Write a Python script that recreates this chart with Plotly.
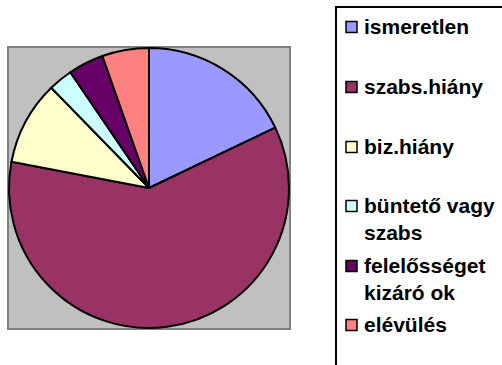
import plotly.graph_objects as go

W, H = 502, 365

# Share of cases by reason
labels = ["ismeretlen", "szabs.hiány", "biz.hiány", "büntető vagy szabs",
          "felelősséget kizáró ok", "elévülés"]
legend_text = ["ismeretlen", "szabs.hiány", "biz.hiány", "büntető vagy<br>szabs",
               "felelősséget<br>kizáró ok", "elévülés"]
values = [17.9, 60.1, 9.7, 2.8, 4.1, 5.4]
colors = ["#9999FF", "#993366", "#FFFFCC", "#CCFFFF", "#660066", "#FF8080"]


def px(x):
    return x / W


def py(y):
    return 1 - y / H


# plot area square (pixels)
pa_x0, pa_x1, pa_y0, pa_y1 = 8, 290, 47, 329

fig = go.Figure(go.Pie(
    labels=labels, values=values, sort=False, direction="clockwise", rotation=0,
    marker=dict(colors=colors, line=dict(color="black", width=2)),
    textinfo="none", hoverinfo="label+percent", showlegend=False,
    domain=dict(x=[px(pa_x0 + 1), px(pa_x1 - 1)], y=[py(pa_y1 - 1), py(pa_y0 + 1)]),
))

shapes = [
    dict(type="rect", xref="paper", yref="paper", layer="below",
         x0=px(pa_x0), x1=px(pa_x1), y0=py(pa_y1), y1=py(pa_y0),
         fillcolor="#C0C0C0", line=dict(color="#808080", width=2)),
    # legend frame
    dict(type="rect", xref="paper", yref="paper",
         x0=px(336), x1=px(520), y0=py(380), y1=py(7),
         fillcolor="white", line=dict(color="black", width=2), layer="below"),
]
annotations = []
row_y = [27, 87, 147, 206, 266, 325]
for txt, col, yc in zip(legend_text, colors, row_y):
    shapes.append(dict(type="rect", xref="paper", yref="paper",
                       x0=px(346), x1=px(357), y0=py(yc + 5.5), y1=py(yc - 5.5),
                       fillcolor=col, line=dict(color="black", width=1.5)))
    annotations.append(dict(xref="paper", yref="paper", x=px(362), y=py(yc - 14),
                            xanchor="left", yanchor="top", align="left",
                            showarrow=False, text=txt,
                            font=dict(family="Liberation Sans, Arial", size=21,
                                      weight="bold", color="black")))

fig.update_layout(
    width=W, height=H, margin=dict(l=0, r=0, t=0, b=0),
    paper_bgcolor="white", plot_bgcolor="white",
    shapes=shapes, annotations=annotations,
)

fig.write_html("out.html")
